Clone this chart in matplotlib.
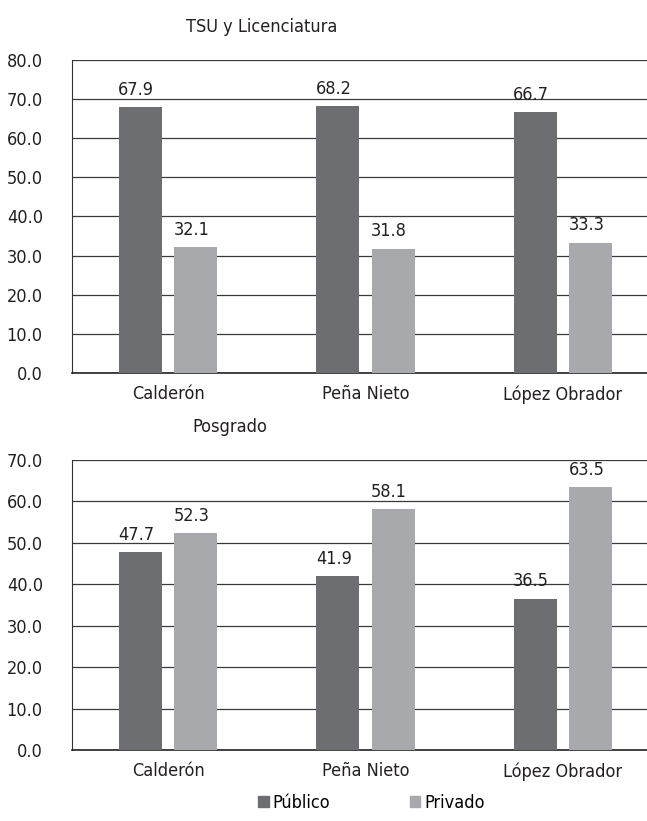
import numpy as np
import matplotlib.pyplot as plt
from matplotlib import font_manager
from matplotlib.patches import Patch

presidentes = ["Calderón", "Peña Nieto", "López Obrador"]
series = ["Público", "Privado"]
tsu_publico = [67.9, 68.2, 66.7]
tsu_privado = [32.1, 31.8, 33.3]
pos_publico = [47.7, 41.9, 36.5]
pos_privado = [52.3, 58.1, 63.5]

colores = ["#6d6e71", "#a7a9ac"]

# buscar una fuente condensada, si existe
narrow = [f for f in font_manager.fontManager.ttflist
          if f.stretch in ("condensed", "semi-condensed", "extra-condensed")
          or "Narrow" in f.name or "Condensed" in f.name]
if narrow:
    plt.rcParams["font.family"] = [narrow[0].name, "DejaVu Sans"]
    plt.rcParams["font.stretch"] = narrow[0].stretch
else:
    plt.rcParams["font.family"] = ["DejaVu Sans"]
fontsize = 13

fig = plt.figure(figsize=(6.47, 8.21), dpi=100)
ax1 = fig.add_axes([0.1113, 0.5457, 0.8887, 0.3812])
ax2 = fig.add_axes([0.1113, 0.0865, 0.8887, 0.3532])

x = np.arange(len(presidentes))
width = 0.218
offset = 0.14


def panel(ax, pub, priv, ymax):
    b1 = ax.bar(x - offset, pub, width, color=colores[0], zorder=3)
    b2 = ax.bar(x + offset, priv, width, color=colores[1], zorder=3)
    for bars, vals in ((b1, pub), (b2, priv)):
        for b, v in zip(bars, vals):
            ax.annotate(f"{v:.1f}", (b.get_x() + b.get_width() / 2, v),
                        xytext=(-3, 6), textcoords="offset points",
                        ha="center", va="bottom", fontsize=fontsize,
                        color="#231f20")
    ax.set_xlim(-0.486, 2.425)
    ax.set_ylim(0, ymax)
    ticks = np.arange(0, ymax + 1, 10)
    ax.set_yticks(ticks)
    ax.set_yticklabels([f"{t:.1f}" for t in ticks])
    ax.yaxis.grid(True, color="#3a3a3a", linewidth=0.9, zorder=0)
    ax.set_axisbelow(True)
    ax.set_xticks(x)
    ax.set_xticklabels(presidentes)
    ax.tick_params(axis="y", length=0, pad=21, labelsize=fontsize, labelcolor="#231f20")
    ax.tick_params(axis="x", length=0, pad=9, labelsize=fontsize, labelcolor="#231f20")
    for s in ("top", "right"):
        ax.spines[s].set_visible(False)
    ax.spines["left"].set_color("#333333")
    ax.spines["bottom"].set_color("#222222")
    ax.spines["bottom"].set_linewidth(1.2)


panel(ax1, tsu_publico, tsu_privado, 80)
panel(ax2, pos_publico, pos_privado, 70)

fig.text(0.405, 1 - 27 / 821, "TSU y Licenciatura", ha="center", va="center",
         fontsize=fontsize, color="#231f20")
fig.text(0.355, 1 - 427 / 821, "Posgrado", ha="center", va="center",
         fontsize=fontsize, color="#231f20")

handles = [Patch(color=c) for c in colores]
fig.legend(handles, series, loc="center", bbox_to_anchor=(0.574, 1 - 803 / 821),
           ncol=2, frameon=False, fontsize=fontsize, handlelength=0.6,
           handleheight=0.6, handletextpad=0.2, columnspacing=4.4)

plt.savefig("out.png", dpi=100)
